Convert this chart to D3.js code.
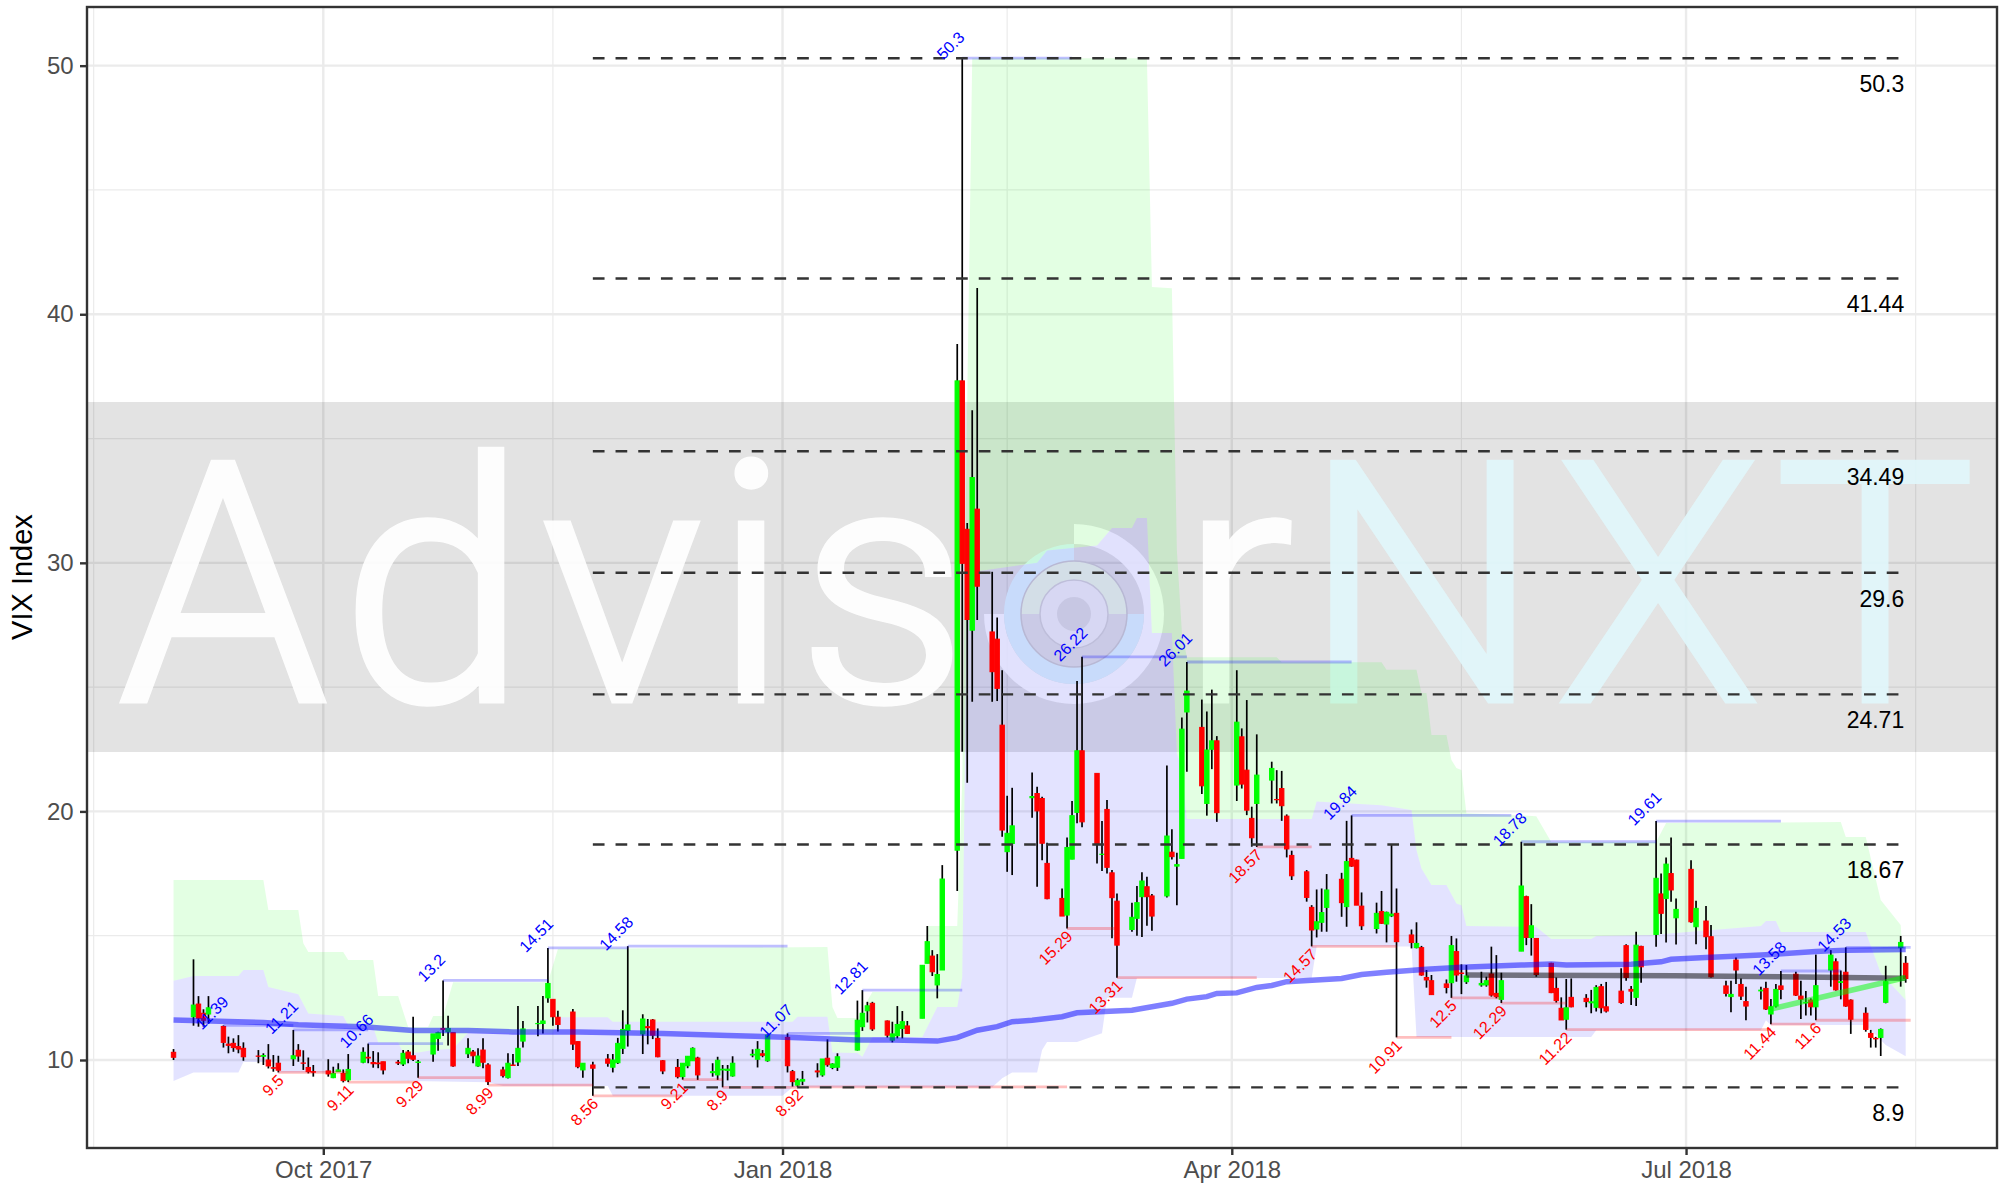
<!DOCTYPE html>
<html>
<head>
<meta charset="utf-8">
<script src="https://d3js.org/d3.v7.min.js"></script>
<style>
    html, body { margin: 0; padding: 0; background: white; }
    svg { display: block; }
    text { font-family: "Liberation Sans", Arial, sans-serif; }
</style>
</head>
<body>
<div id="chart"></div>
<script>
const candleDates = [
    "2017-09-01","2017-09-05","2017-09-06","2017-09-07","2017-09-08","2017-09-11","2017-09-12","2017-09-13","2017-09-14","2017-09-15","2017-09-18","2017-09-19","2017-09-20","2017-09-21","2017-09-22","2017-09-25","2017-09-26","2017-09-27","2017-09-28","2017-09-29",
    "2017-10-02","2017-10-03","2017-10-04","2017-10-05","2017-10-06","2017-10-09","2017-10-10","2017-10-11","2017-10-12","2017-10-13","2017-10-16","2017-10-17","2017-10-18","2017-10-19","2017-10-20","2017-10-23","2017-10-24","2017-10-25","2017-10-26","2017-10-27","2017-10-30","2017-10-31",
    "2017-11-01","2017-11-02","2017-11-03","2017-11-06","2017-11-07","2017-11-08","2017-11-09","2017-11-10","2017-11-13","2017-11-14","2017-11-15","2017-11-16","2017-11-17","2017-11-20","2017-11-21","2017-11-22","2017-11-24","2017-11-27","2017-11-28","2017-11-29","2017-11-30",
    "2017-12-01","2017-12-04","2017-12-05","2017-12-06","2017-12-07","2017-12-08","2017-12-11","2017-12-12","2017-12-13","2017-12-14","2017-12-15","2017-12-18","2017-12-19","2017-12-20","2017-12-21","2017-12-22","2017-12-26","2017-12-27","2017-12-28","2017-12-29",
    "2018-01-02","2018-01-03","2018-01-04","2018-01-05","2018-01-08","2018-01-09","2018-01-10","2018-01-11","2018-01-12","2018-01-16","2018-01-17","2018-01-18","2018-01-19","2018-01-22","2018-01-23","2018-01-24","2018-01-25","2018-01-26","2018-01-29","2018-01-30","2018-01-31",
    "2018-02-01","2018-02-02","2018-02-05","2018-02-06","2018-02-07","2018-02-08","2018-02-09","2018-02-12","2018-02-13","2018-02-14","2018-02-15","2018-02-16","2018-02-20","2018-02-21","2018-02-22","2018-02-23","2018-02-26","2018-02-27","2018-02-28",
    "2018-03-01","2018-03-02","2018-03-05","2018-03-06","2018-03-07","2018-03-08","2018-03-09","2018-03-12","2018-03-13","2018-03-14","2018-03-15","2018-03-16","2018-03-19","2018-03-20","2018-03-21","2018-03-22","2018-03-23","2018-03-26","2018-03-27","2018-03-28","2018-03-29",
    "2018-04-02","2018-04-03","2018-04-04","2018-04-05","2018-04-06","2018-04-09","2018-04-10","2018-04-11","2018-04-12","2018-04-13","2018-04-16","2018-04-17","2018-04-18","2018-04-19","2018-04-20","2018-04-23","2018-04-24","2018-04-25","2018-04-26","2018-04-27","2018-04-30",
    "2018-05-01","2018-05-02","2018-05-03","2018-05-04","2018-05-07","2018-05-08","2018-05-09","2018-05-10","2018-05-11","2018-05-14","2018-05-15","2018-05-16","2018-05-17","2018-05-18","2018-05-21","2018-05-22","2018-05-23","2018-05-24","2018-05-25","2018-05-29","2018-05-30","2018-05-31",
    "2018-06-01","2018-06-04","2018-06-05","2018-06-06","2018-06-07","2018-06-08","2018-06-11","2018-06-12","2018-06-13","2018-06-14","2018-06-15","2018-06-18","2018-06-19","2018-06-20","2018-06-21","2018-06-22","2018-06-25","2018-06-26","2018-06-27","2018-06-28","2018-06-29",
    "2018-07-02","2018-07-03","2018-07-05","2018-07-06","2018-07-09","2018-07-10","2018-07-11","2018-07-12","2018-07-13","2018-07-16","2018-07-17","2018-07-18","2018-07-19","2018-07-20","2018-07-23","2018-07-24","2018-07-25","2018-07-26","2018-07-27","2018-07-30","2018-07-31",
    "2018-08-01","2018-08-02","2018-08-03","2018-08-06","2018-08-07","2018-08-08","2018-08-09","2018-08-10","2018-08-13","2018-08-14"
]
const candleOpen = [
    10.31,11.74,12.25,11.88,11.85,11.35,10.64,10.67,10.54,10.47,10.16,10.15,10,9.69,9.87,10.05,10.39,9.88,9.7,9.53,
    9.56,9.29,9.53,9.46,9.2,9.91,10.11,9.9,9.88,9.93,9.91,9.84,10.32,10.17,9.9,10.24,10.87,11.27,11.14,11.1,10.25,10.32,
    9.76,10.4,9.8,9.6,9.29,9.8,9.92,10.76,11.46,11.47,12.5,12.44,11.72,11.93,10.74,9.6,9.8,10.04,9.71,9.89,10.47,
    11.19,11.05,11.34,11.61,10.87,9.97,9.7,9.33,9.77,9.97,10.08,9.49,9.4,9.6,9.58,9.36,10.2,10.03,10.25,9.97,
    10.91,9.53,8.99,9.15,9.56,9.4,10.07,9.7,9.71,10.4,11.34,11.98,12.28,11.57,10.8,10.98,11.27,11.37,11.68,13.89,14.18,
    13.02,13.62,18.44,37.32,31.35,27.29,32.16,27.22,26.93,23.47,18.38,18.71,20.55,20.72,20.52,17.91,16.5,15.83,18.08,
    19.96,22.44,21.53,18.27,20.08,17.53,16.39,15.25,15.7,16.57,16.97,16.6,16.6,18.36,17.8,18.11,24,23.38,20.32,22.5,22.84,
    21.06,23,21.66,19.72,20.32,21.26,20.48,20.92,19.81,18.23,17.57,16.14,15.27,15.54,16.14,17.27,16.17,18.11,18.04,16.19,15.29,
    15.97,15.47,15.8,15.9,15.03,14.52,14.52,13.32,13.19,13.06,13.11,14.36,13.5,13.15,13.02,13.02,13.46,12.68,12.44,14.38,16.57,14.93,
    14.89,13.89,12.88,12.08,11.64,12.52,12.48,12.3,12.12,12.95,12.14,12.77,14.6,12.84,12.52,14.57,15.05,16.68,16.5,17.5,15.72,
    17.67,15.36,15.59,14.96,12.98,12.55,14.02,13.04,12.35,12.78,12.88,11.85,12.17,12.98,13.45,12.57,12.3,12.41,12.14,13.62,13.95,
    13.12,13.53,12.41,11.88,11.07,10.87,10.91,12.32,14.52,13.89
]
const candleHigh = [
    10.44,14.05,12.57,12.04,12.57,11.39,10.94,10.87,11,10.71,10.4,10.27,10.64,10.2,10.17,11.21,10.64,10.39,10.1,9.8,
    10.03,9.73,9.87,9.62,10.24,10.51,10.66,10.36,10.31,9.93,10,10.4,10.4,11.74,10,11.05,11.14,13.2,11.78,11.1,10.87,10.4,
    10.47,10.87,9.87,9.73,10.27,10.24,12.17,11.57,12.17,12.57,14.51,12.44,11.98,12.05,10.74,9.87,9.93,10.24,10.24,10.89,12,
    14.58,11.84,11.65,11.65,11.27,10,10.04,9.87,10.15,10.51,10.13,9.87,10.13,9.8,9.8,10.15,10.43,10.76,10.4,11.03,
    11.07,9.6,9.26,9.56,9.87,10.04,10.83,9.87,10.27,12.39,12.81,12.34,12.34,11.59,11.54,12.17,11.97,11.57,13.81,15.39,14.42,
    14.26,17.84,38.8,50.3,31.6,36.14,41.06,29.64,27.8,25.68,20.63,20.95,21.57,20.99,20.59,18.74,16.9,18.95,20.42,
    25.25,26.22,21.53,19.61,20.46,17.64,16.7,16.33,17,17.55,17.37,16.68,21.85,19.28,18.34,23.78,26.01,24.5,24.02,24.9,23.03,
    25.68,23.34,24.48,20.19,23.1,22,21.66,21.63,19.88,18.42,17.64,16.23,16.86,16.9,17.48,17.53,19.62,19.84,18.06,16.74,16.33,
    16.8,15.97,18.67,16.9,15.25,15.54,14.59,13.62,13.42,13.24,14.99,14.89,13.85,13.82,13.55,13.35,14.56,14.22,13.51,18.78,16.61,16.27,
    14.89,13.91,13.32,12.52,13.26,13.28,12.65,12.82,13.01,13.06,13.14,13.69,14.66,12.98,15.16,14.6,19.61,17.5,18.15,18.95,16.5,
    18.04,16.41,16.2,15.43,13.19,13.19,14.12,13.28,12.95,12.95,13.15,12.45,13.06,13.58,13.55,13.19,12.78,12.48,14.24,14.42,14.09,
    13.6,14.53,12.44,12.12,11.21,10.93,11.27,13.79,14.99,14.18
]
const candleLow = [
    10,11.38,11.34,11.34,11.47,10.5,10.27,10.33,10.27,9.97,9.87,9.8,9.66,9.53,9.5,9.76,9.93,9.6,9.46,9.33,
    9.33,9.27,9.53,9.1,9.11,9.87,9.87,9.69,9.67,9.42,9.8,9.76,9.87,9.96,9.29,9.93,10.37,10.97,10.58,9.73,10.08,9.87,
    9.73,9.67,8.99,9.3,9.26,9.76,9.76,10.5,10.96,11.07,12.3,11.38,11.15,10.4,9.67,9.29,8.56,9.73,9.5,9.84,10.24,
    10.54,10.24,10.63,10.84,10.11,9.43,9.26,9.21,9.67,9.97,9.2,9.33,9.2,8.9,9.18,9.33,10.11,9.7,10.11,9.93,
    9.5,8.93,8.92,8.99,9.3,9.33,9.73,9.63,9.56,10.38,11.17,11.51,11.17,10.9,10.71,10.87,10.87,11.05,11.68,13.89,13.38,
    12.48,13.62,16.8,22.4,21.15,24.41,27.7,24.41,24.44,18.98,17.57,17.44,19.75,16.97,18.04,16.47,15.79,15.29,18.08,
    19.52,19.36,17.9,17.6,17.5,14.9,13.31,15.16,15,14.95,15.4,15.2,16.54,18.07,16.23,18.11,21.6,20.7,19.83,21.7,19.58,
    20.42,20.92,19.85,18.58,18.57,20.32,20.32,19.62,18.15,17.24,16.37,14.57,14.93,15.16,15.16,15.76,15.36,17.77,16.23,15.23,15.09,
    15.47,14.73,15.75,10.91,14.49,14.49,13.39,12.91,12.62,12.68,12.5,13.15,12.65,13.06,12.95,12.95,12.55,12.48,12.29,14.38,14.62,14.2,
    13.35,12.69,12.31,11.61,11.22,12.12,12.12,11.88,11.95,11.88,11.91,12.26,13.19,12.21,12.17,13.11,14.56,15.07,14.73,16.37,14.65,
    15.52,14.66,14.46,13.32,12.55,11.92,13.06,12.41,11.6,12.43,12.01,11.44,12.11,12.44,12.57,11.65,11.79,11.79,11.6,12.95,12.79,
    12.44,12.14,11.05,11.14,10.5,10.5,10.16,12.28,12.95,13.11
]
const candleClose = [
    10.11,12.21,11.68,11.6,12.1,10.71,10.59,10.5,10.44,10.13,10.15,10.18,9.76,9.67,9.59,10.17,10.16,9.87,9.53,9.51,
    9.44,9.46,9.6,9.17,9.62,10.31,10.08,9.85,9.85,9.6,9.88,10.27,10.07,10.03,9.92,11.05,11.1,11.23,11.27,9.76,10.47,10.17,
    10.16,9.91,9.13,9.37,9.87,9.78,10.47,11.25,11.47,11.57,13.08,11.74,11.43,10.64,9.73,9.87,9.67,9.87,10,10.67,11.23,
    11.41,11.65,11.3,11,10.13,9.56,9.33,9.87,10.15,10.47,9.4,9.53,9.99,9.63,9.63,9.87,10.23,10.43,10.19,11,
    9.77,9.13,9.17,9.22,9.52,10.04,9.81,9.84,10.13,11.6,11.88,12.18,11.25,11,11.05,11.43,11.54,11.07,13.81,14.76,13.55,
    13.44,17.28,37.32,29.98,27.72,33.43,29.06,25.62,24.95,19.25,19.12,19.42,20.6,20.02,18.72,16.49,15.79,18.55,19.83,
    22.44,19.58,18.71,18.28,17.75,16.53,14.62,15.74,16.33,17.2,16.57,15.79,19.01,18.18,17.86,23.31,24.84,21.03,22.47,22.84,19.95,
    23.59,21.1,20.05,18.94,21.46,21.73,20.47,20.23,18.49,17.41,16.54,15.23,15.56,15.93,16.84,16.33,17.98,17.8,16.23,15.4,15.9,
    15.5,15.94,15.87,14.76,14.73,14.69,13.42,13.22,12.63,12.92,14.6,13.42,13.48,13.38,13.08,13.19,12.61,12.55,13.19,17,14.93,15.4,
    13.44,12.71,12.39,11.61,12.1,12.14,12.35,12.34,12.92,12.1,11.97,12.31,13.32,12.77,14.62,13.75,17.31,15.9,17.88,16.84,16.06,
    15.56,16.1,14.96,13.35,12.68,12.64,13.62,12.57,12.17,12.81,12.05,12.14,12.84,12.84,12.61,12.44,12.31,12.14,12.99,14.22,12.82,
    13.15,12.17,11.64,11.23,10.91,10.85,11.23,13.15,14.73,13.28
]

// upper edge of the green band, boundary green/blue, lower edge of the blue band
const upperBandDates = ["2017-09-01","2017-09-19","2017-09-20","2017-09-26","2017-09-27","2017-09-28","2017-10-05","2017-10-06","2017-10-11","2017-10-12","2017-10-16","2017-10-18","2017-10-22","2017-10-23","2017-10-25","2017-10-27","2017-11-15","2017-11-17","2018-01-10","2018-01-11","2018-01-12","2018-01-16","2018-01-19","2018-01-29","2018-01-30","2018-02-05","2018-02-06","2018-02-07","2018-02-08","2018-03-15","2018-03-16","2018-03-20","2018-03-21","2018-03-22","2018-03-23","2018-04-10","2018-04-11","2018-05-01","2018-05-02","2018-05-08","2018-05-09","2018-05-10","2018-05-11","2018-05-14","2018-05-15","2018-05-16","2018-05-17","2018-05-18","2018-06-01","2018-06-04","2018-06-25","2018-06-27","2018-08-01","2018-08-02","2018-08-06","2018-08-09","2018-08-13","2018-08-14"]
const upperBandValues = [17.24,17.24,16.03,16.03,14.7,14.34,14.34,14.02,14.02,12.57,12.57,11.33,11.33,11.77,11.77,13.13,13.13,14.47,14.55,12.13,11.69,11.69,12.74,12.74,15.39,15.39,21.26,36.55,50.3,50.3,41.1,41.05,30.5,27.2,26.2,26.2,26,26,25.7,25.7,24.76,24.76,23.07,23.07,22.07,21.75,21.67,19.93,19.81,18.77,18.77,19.53,19.57,18.97,18.97,16.44,15.43,12.41]

const midBandDates = ["2017-09-01","2017-09-05","2017-09-14","2017-09-15","2017-09-19","2017-09-20","2017-09-26","2017-09-28","2017-10-05","2017-10-06","2017-10-11","2017-10-12","2017-10-16","2017-10-17","2017-10-20","2017-10-23","2017-10-27","2017-10-30","2017-11-16","2017-11-17","2017-11-27","2017-11-28","2018-01-03","2018-01-04","2018-01-10","2018-01-11","2018-01-16","2018-01-17","2018-01-19","2018-01-29","2018-02-01","2018-02-05","2018-02-06","2018-02-07","2018-02-14","2018-02-21","2018-02-23","2018-03-05","2018-03-08","2018-03-12","2018-03-13","2018-03-15","2018-03-16","2018-03-20","2018-03-21","2018-03-22","2018-03-23","2018-04-17","2018-04-18","2018-05-01","2018-05-07","2018-05-08","2018-05-09","2018-05-11","2018-05-14","2018-05-16","2018-05-17","2018-05-18","2018-06-01","2018-06-04","2018-06-12","2018-06-13","2018-06-24","2018-07-16","2018-07-17","2018-07-19","2018-07-20","2018-08-06","2018-08-09","2018-08-14"]
const midBandValues = [13.19,13.38,13.38,13.62,13.62,12.94,12.65,11.87,11.77,11.4,11.33,10.7,10.7,10.3,10.3,10.4,10.45,11.1,11.1,11.72,11.72,11.54,11.54,11.74,11.74,10.3,10.28,10.13,10.93,10.93,12.13,12.13,13.34,29.6,29.8,30,30.5,30.7,31.4,31.4,31.8,31.8,27.18,27.18,22.35,21.67,19.7,19.7,20.4,20.25,20.06,18.45,17.7,17.04,17.04,16.3,16.23,15.39,15.35,14.87,14.87,14.99,15.03,15.39,15.59,15.59,15.15,15.15,13.5,12.41]

const lowerBandDates = ["2017-09-01","2017-09-05","2017-09-14","2017-09-15","2017-09-21","2017-09-22","2017-10-05","2017-10-06","2017-11-03","2017-11-06","2017-11-27","2017-11-28","2018-01-01","2018-01-03","2018-02-12","2018-02-14","2018-02-16","2018-02-21","2018-02-22","2018-02-23","2018-03-01","2018-03-06","2018-03-07","2018-03-12","2018-03-13","2018-04-17","2018-04-18","2018-05-07","2018-05-08","2018-06-12","2018-06-13","2018-07-16","2018-07-17","2018-07-18","2018-08-06","2018-08-10","2018-08-14"]
const lowerBandValues = [9.16,9.5,9.5,9.92,9.92,9.5,9.5,9.2,9.11,8.95,8.95,8.56,8.56,8.9,8.9,9.27,9.5,9.5,10.4,10.72,10.72,11.08,12.5,12.5,13.3,13.3,14.57,14.57,10.93,10.93,11.2,11.2,11.6,11.41,11.41,10.6,10.15]

const blueLineDates = ["2017-09-01","2017-09-19","2017-09-26","2017-10-02","2017-10-09","2017-10-19","2017-10-30","2017-11-08","2017-11-21","2017-12-08","2017-12-21","2018-01-03","2018-01-16","2018-01-23","2018-02-01","2018-02-05","2018-02-09","2018-02-13","2018-02-16","2018-02-20","2018-02-26","2018-03-01","2018-03-12","2018-03-20","2018-03-23","2018-03-27","2018-03-29","2018-04-02","2018-04-06","2018-04-09","2018-04-12","2018-04-23","2018-04-27","2018-05-02","2018-05-10","2018-05-17","2018-05-29","2018-06-04","2018-06-07","2018-06-20","2018-06-26","2018-06-28","2018-07-05","2018-07-16","2018-07-27","2018-08-02","2018-08-14"]
const blueLineValues = [11.61,11.51,11.42,11.38,11.34,11.19,11.19,11.13,11.13,11.07,10.99,10.91,10.8,10.8,10.76,10.9,11.2,11.34,11.54,11.6,11.74,11.9,12,12.28,12.45,12.55,12.68,12.7,12.92,13,13.15,13.28,13.44,13.53,13.65,13.73,13.82,13.86,13.82,13.85,13.95,14.05,14.12,14.22,14.36,14.42,14.45]

const grayLineDates = ["2018-05-18","2018-06-29","2018-07-20","2018-08-14"]
const grayLineValues = [13.42,13.39,13.35,13.29]
const greenLineDates = ["2018-07-18","2018-08-14"]
const greenLineValues = [12.05,13.32]

const swingHighDates = ["2017-09-11","2017-09-25","2017-10-10","2017-10-25","2017-11-15","2017-12-01","2018-01-02","2018-01-17","2018-02-06","2018-03-02","2018-03-23","2018-04-25","2018-05-29","2018-06-25","2018-07-20","2018-08-02"]
const swingHighValues = [11.39,11.21,10.66,13.2,14.51,14.58,11.07,12.81,50.3,26.22,26.01,19.84,18.78,19.61,13.58,14.53]
const swingHighEnds = ["2017-09-25","2017-10-10","2017-10-25","2017-11-15","2017-12-01","2018-01-02","2018-01-16","2018-02-06","2018-02-28","2018-03-23","2018-04-25","2018-05-27","2018-06-25","2018-07-20","2018-08-01","2018-08-15"]

const swingLowDates = ["2017-09-22","2017-10-06","2017-10-20","2017-11-03","2017-11-24","2017-12-12","2017-12-20","2018-01-04","2018-02-27","2018-03-09","2018-04-06","2018-04-17","2018-05-04","2018-05-15","2018-05-25","2018-06-07","2018-07-18","2018-07-27"]
const swingLowValues = [9.5,9.11,9.29,8.99,8.56,9.21,8.9,8.92,15.29,13.31,18.57,14.57,10.91,12.5,12.29,11.22,11.44,11.6]
const swingLowEnds = ["2017-10-06","2017-10-20","2017-11-03","2017-11-24","2017-12-12","2017-12-20","2018-01-04","2018-02-27","2018-03-09","2018-04-06","2018-04-17","2018-05-04","2018-05-15","2018-05-25","2018-06-07","2018-07-18","2018-07-27","2018-08-15"]

const fibLevels = [50.3,41.44,34.49,29.6,24.71,18.67,8.9]
const fibStart = "2017-11-24"
const fibEnd = "2018-08-13"

const xMajor = ["2017-10-01","2018-01-01","2018-04-01","2018-07-01"]
const xMinor = ["2017-08-16","2017-11-16","2018-02-15","2018-05-17","2018-08-16"]
const yMajor = [10,20,30,40,50]
const yMinor = [15,25,35,45]

const watermarkLetters = ["A","d","v","i","s","r","N","X","T"]
const watermarkCenters = [223,434,622,751,883,1237,1422,1658,1875]
const watermarkColors = ["white","white","white","white","white","white","#e1f7fb","#e1f7fb","#e1f7fb"]

const parseDay = d3.utcParse("%Y-%m-%d")

const width = 2013, height = 1186
const panel = {left: 87, right: 1997, top: 7, bottom: 1148}

let svg = d3.select("#chart").append("svg").attr("width", width).attr("height", height)

let x = d3.scaleUtc()
    .domain([new Date(Date.UTC(2017, 7, 14, 16)), new Date(Date.UTC(2018, 8, 1, 7))])
    .range([panel.left, panel.right])
let y = d3.scaleLinear().domain([6.46, 52.36]).range([panel.bottom, panel.top])
let xd = s => x(parseDay(s))

// grid
svg.append("rect").attr("x", panel.left).attr("y", panel.top)
    .attr("width", panel.right - panel.left).attr("height", panel.bottom - panel.top).attr("fill", "white")
let grid = svg.append("g").attr("stroke", "#ebebeb").attr("fill", "none")
grid.selectAll(".ymin").data(yMinor).join("line").attr("stroke-width", 1.2)
    .attr("x1", panel.left).attr("x2", panel.right).attr("y1", d => y(d)).attr("y2", d => y(d))
grid.selectAll(".xmin").data(xMinor).join("line").attr("stroke-width", 1.2)
    .attr("y1", panel.top).attr("y2", panel.bottom).attr("x1", d => xd(d)).attr("x2", d => xd(d))
grid.selectAll(".ymaj").data(yMajor).join("line").attr("stroke-width", 2.4)
    .attr("x1", panel.left).attr("x2", panel.right).attr("y1", d => y(d)).attr("y2", d => y(d))
grid.selectAll(".xmaj").data(xMajor).join("line").attr("stroke-width", 2.4)
    .attr("y1", panel.top).attr("y2", panel.bottom).attr("x1", d => xd(d)).attr("x2", d => xd(d))

// watermark image, sits under everything else
let mark = svg.append("g")
mark.append("rect").attr("x", panel.left).attr("y", 402).attr("width", panel.right - panel.left).attr("height", 350)
    .attr("fill", "black").attr("fill-opacity", 0.11)
mark.selectAll("text").data(watermarkLetters).join("text")
    .attr("x", (d, i) => watermarkCenters[i])
    .attr("y", 700)
    .attr("text-anchor", "middle")
    .style("font-family", "Roboto")
    .style("font-weight", 300)
    .style("font-size", "333px")
    .attr("fill", (d, i) => watermarkColors[i])
    .attr("stroke", (d, i) => watermarkColors[i])
    .attr("stroke-width", 7)
    .attr("opacity", 0.93)
    .text(d => d)

let logo = mark.append("g").attr("transform", "translate(1074,614)")
let ring = d3.arc()
logo.append("path").attr("d", ring({innerRadius: 70, outerRadius: 90, startAngle: 0, endAngle: 1.5 * Math.PI})).attr("fill", "white").attr("fill-opacity", 0.9)
logo.append("path").attr("d", ring({innerRadius: 53, outerRadius: 70, startAngle: 0.5 * Math.PI, endAngle: 2 * Math.PI})).attr("fill", "#e1f7fb")
logo.append("path").attr("d", ring({innerRadius: 34, outerRadius: 53, startAngle: -0.5 * Math.PI, endAngle: 0.5 * Math.PI})).attr("fill", "#eefae4")
logo.append("circle").attr("r", 53).attr("fill", "none").attr("stroke", "#cfcfcf").attr("stroke-width", 1.5)
logo.append("circle").attr("r", 34).attr("fill", "#f2f2f2").attr("stroke", "#d6d6d6").attr("stroke-width", 1.5)
logo.append("circle").attr("r", 17).attr("fill", "#e0e0e0")

// bands
let bandLine = d3.line().x(d => xd(d[0])).y(d => y(d[1]))
let upperBand = d3.zip(upperBandDates, upperBandValues)
let midBand = d3.zip(midBandDates, midBandValues)
let lowerBand = d3.zip(lowerBandDates, lowerBandValues)
svg.append("path").attr("d", bandLine(upperBand.concat(midBand.slice().reverse())) + "Z")
    .attr("fill", "#00ff00").attr("fill-opacity", 0.11)
svg.append("path").attr("d", bandLine(midBand.concat(lowerBand.slice().reverse())) + "Z")
    .attr("fill", "#0000ff").attr("fill-opacity", 0.11)

// candles
let candles = svg.append("g")
candles.selectAll("line").data(candleDates).join("line")
    .attr("x1", d => xd(d)).attr("x2", d => xd(d))
    .attr("y1", (d, i) => y(candleHigh[i])).attr("y2", (d, i) => y(candleLow[i]))
    .attr("stroke", "black").attr("stroke-width", 1.7)
candles.selectAll("rect").data(candleDates).join("rect")
    .attr("x", d => xd(d) - 2.2).attr("width", 4.4)
    .attr("y", (d, i) => y(Math.max(candleOpen[i], candleClose[i])))
    .attr("height", (d, i) => Math.abs(y(candleOpen[i]) - y(candleClose[i])))
    .attr("fill", (d, i) => candleClose[i] >= candleOpen[i] ? "#00ff00" : "#ff0000")
    .attr("stroke", (d, i) => candleClose[i] >= candleOpen[i] ? "#00ff00" : "#ff0000")
    .attr("stroke-width", 1)

// average and trend lines
function trendLine(dates, values, color, opacity) {
    svg.append("path")
        .datum(d3.zip(dates, values))
        .attr("d", bandLine)
        .attr("fill", "none")
        .attr("stroke", color)
        .attr("stroke-opacity", opacity)
        .attr("stroke-width", 5.5)
}
trendLine(blueLineDates, blueLineValues, "#0000ff", 0.5)
trendLine(grayLineDates, grayLineValues, "black", 0.5)
trendLine(greenLineDates, greenLineValues, "#00ff00", 0.5)

// swing segments
svg.append("g").selectAll("line").data(swingHighDates).join("line")
    .attr("x1", d => xd(d)).attr("x2", (d, i) => xd(swingHighEnds[i]))
    .attr("y1", (d, i) => y(swingHighValues[i])).attr("y2", (d, i) => y(swingHighValues[i]))
    .attr("stroke", "#0000ff").attr("stroke-opacity", 0.25).attr("stroke-width", 2.8)
svg.append("g").selectAll("line").data(swingLowDates).join("line")
    .attr("x1", d => xd(d)).attr("x2", (d, i) => xd(swingLowEnds[i]))
    .attr("y1", (d, i) => y(swingLowValues[i])).attr("y2", (d, i) => y(swingLowValues[i]))
    .attr("stroke", "#ff0000").attr("stroke-opacity", 0.25).attr("stroke-width", 2.8)

// fib levels
svg.append("g").selectAll("line").data(fibLevels).join("line")
    .attr("x1", xd(fibStart)).attr("x2", xd(fibEnd))
    .attr("y1", d => y(d)).attr("y2", d => y(d))
    .attr("stroke", "#333333").attr("stroke-width", 2.4).attr("stroke-dasharray", "11.7 11")
svg.append("g").selectAll("text").data(fibLevels).join("text")
    .attr("x", xd(fibEnd) + 3.5)
    .attr("y", d => y(d) + 34)
    .attr("text-anchor", "end")
    .style("font-size", "23px")
    .attr("fill", "black")
    .text(d => d)

// swing labels
svg.append("g").selectAll("text").data(swingHighDates).join("text")
    .attr("transform", (d, i) => `translate(${xd(d) - 11.7},${y(swingHighValues[i]) - 12.7}) rotate(-45)`)
    .attr("text-anchor", "middle")
    .attr("dy", "0.35em")
    .style("font-size", "16px")
    .attr("fill", "#0000ff")
    .text((d, i) => swingHighValues[i])
svg.append("g").selectAll("text").data(swingLowDates).join("text")
    .attr("transform", (d, i) => `translate(${xd(d) + 2.5},${y(swingLowValues[i]) + 5}) rotate(-45)`)
    .attr("text-anchor", "end")
    .attr("dy", "0.35em")
    .style("font-size", "16px")
    .attr("fill", "#ff0000")
    .text((d, i) => swingLowValues[i])

// panel border
svg.append("rect").attr("x", panel.left).attr("y", panel.top)
    .attr("width", panel.right - panel.left).attr("height", panel.bottom - panel.top)
    .attr("fill", "none").attr("stroke", "#333333").attr("stroke-width", 2.4)

// axes
let xAxis = d3.axisBottom(x).tickValues(xMajor.map(parseDay)).tickFormat(d3.utcFormat("%b %Y"))
    .tickSize(7).tickPadding(6.3)
let yAxis = d3.axisLeft(y).tickValues(yMajor).tickSize(7).tickPadding(6.3)
let gx = svg.append("g").attr("transform", `translate(0,${panel.bottom})`).call(xAxis)
let gy = svg.append("g").attr("transform", `translate(${panel.left},0)`).call(yAxis)
for (const g of [gx, gy]) {
    g.select(".domain").remove()
    g.selectAll(".tick line").attr("stroke", "#333333").attr("stroke-width", 2.4)
    g.selectAll(".tick text").attr("fill", "#4d4d4d")
        .style("font-size", "24px").style("font-family", '"Liberation Sans", Arial, sans-serif')
}

svg.append("text")
    .attr("transform", `translate(32,577) rotate(-90)`)
    .attr("text-anchor", "middle")
    .style("font-size", "29px")
    .attr("fill", "black")
    .text("VIX Index")
</script>
</body>
</html>
